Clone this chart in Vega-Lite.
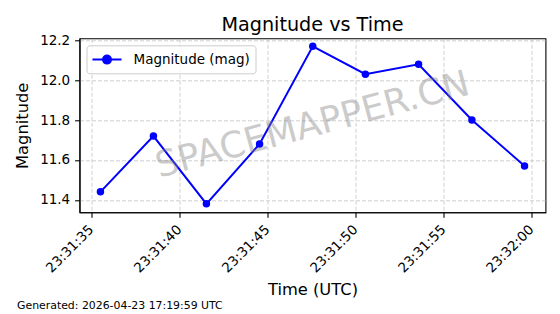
{
  "$schema": "https://vega.github.io/schema/vega-lite/v6.json",
  "autosize": "none",
  "width": 466,
  "height": 174,
  "padding": {"left": 79.5, "top": 38.3, "right": 14.5, "bottom": 101.7},
  "background": "white",
  "title": {
    "text": "Magnitude vs Time",
    "font": "DejaVu Sans",
    "fontSize": 19.2,
    "fontWeight": "normal",
    "color": "black",
    "anchor": "middle",
    "offset": -2
  },
  "config": {
    "view": {"stroke": "black", "strokeWidth": 1.1},
    "axis": {
      "domainColor": "black",
      "domainWidth": 1.1,
      "tickColor": "black",
      "tickWidth": 1.1,
      "tickSize": 4.9,
      "labelPadding": 4.9,
      "labelFont": "DejaVu Sans",
      "labelFontSize": 13.5,
      "labelColor": "black",
      "titleFont": "DejaVu Sans",
      "titleFontSize": 16.3,
      "titleFontWeight": "normal",
      "titleColor": "black",
      "grid": true,
      "gridColor": "#b0b0b0",
      "gridOpacity": 0.6,
      "gridDash": [4, 2],
      "gridWidth": 1
    }
  },
  "datasets": {
    "obs": [
      {"time": "2026-04-23T23:31:35.530Z", "mag": 11.44},
      {"time": "2026-04-23T23:31:38.540Z", "mag": 11.72},
      {"time": "2026-04-23T23:31:41.550Z", "mag": 11.38},
      {"time": "2026-04-23T23:31:44.570Z", "mag": 11.68},
      {"time": "2026-04-23T23:31:47.590Z", "mag": 12.17},
      {"time": "2026-04-23T23:31:50.580Z", "mag": 12.03},
      {"time": "2026-04-23T23:31:53.600Z", "mag": 12.08},
      {"time": "2026-04-23T23:31:56.630Z", "mag": 11.80},
      {"time": "2026-04-23T23:31:59.620Z", "mag": 11.57}
    ],
    "watermark": [{"label": "SPACEMAPPER.CN"}],
    "footer": [{"label": "Generated: 2026-04-23 17:19:59 UTC"}]
  },
  "layer": [
    {
      "data": {"name": "obs"},
      "mark": {"type": "line", "strokeWidth": 2},
      "encoding": {
        "x": {
          "field": "time",
          "type": "temporal",
          "title": "Time (UTC)",
          "scale": {
            "type": "utc",
            "domain": [
              {"year": 2026, "month": 4, "date": 23, "hours": 23, "minutes": 31, "seconds": 34, "milliseconds": 340, "utc": true},
              {"year": 2026, "month": 4, "date": 23, "hours": 23, "minutes": 32, "seconds": 0, "milliseconds": 810, "utc": true}
            ]
          },
          "axis": {
            "values": [
              {"year": 2026, "month": 4, "date": 23, "hours": 23, "minutes": 31, "seconds": 35, "utc": true},
              {"year": 2026, "month": 4, "date": 23, "hours": 23, "minutes": 31, "seconds": 40, "utc": true},
              {"year": 2026, "month": 4, "date": 23, "hours": 23, "minutes": 31, "seconds": 45, "utc": true},
              {"year": 2026, "month": 4, "date": 23, "hours": 23, "minutes": 31, "seconds": 50, "utc": true},
              {"year": 2026, "month": 4, "date": 23, "hours": 23, "minutes": 31, "seconds": 55, "utc": true},
              {"year": 2026, "month": 4, "date": 23, "hours": 23, "minutes": 32, "seconds": 0, "utc": true}
            ],
            "labelExpr": "utcFormat(datum.value, '%H:%M:%S')",
            "labelAngle": -45,
            "labelAlign": "right",
            "labelBaseline": "middle",
            "labelPadding": 10,
            "labelDx": -5,
            "titlePadding": 7
          }
        },
        "y": {
          "field": "mag",
          "type": "quantitative",
          "title": "Magnitude",
          "scale": {"domain": [11.3375, 12.21], "zero": false, "nice": false},
          "axis": {"values": [11.4, 11.6, 11.8, 12.0, 12.2], "format": ".1f", "titlePadding": 9}
        },
        "color": {
          "datum": "Magnitude (mag)",
          "type": "nominal",
          "scale": {"range": ["#0000ff"]},
          "legend": {
            "title": null,
            "orient": "top-left",
            "offset": 7,
            "padding": 5.3,
            "cornerRadius": 3,
            "strokeColor": "#cccccc",
            "fillColor": "rgba(255,255,255,0.8)",
            "symbolType": "M-1.04,0H2.59M1.275,0A0.5,0.5,0,1,1,0.275,0A0.5,0.5,0,1,1,1.275,0Z",
            "symbolSize": 256,
            "symbolStrokeWidth": 2,
            "symbolFillColor": "#0000ff",
            "symbolStrokeColor": "#0000ff",
            "labelFont": "DejaVu Sans",
            "labelFontSize": 13.5,
            "labelColor": "black",
            "labelOffset": 23.7,
            "labelLimit": 300,
            "encode": {
              "symbols": {"update": {"fill": {"value": "#0000ff"}, "stroke": {"value": "#0000ff"}, "strokeWidth": {"value": 2}, "opacity": {"value": 1}}}
            }
          }
        }
      }
    },
    {
      "data": {"name": "obs"},
      "mark": {"type": "point", "filled": true, "size": 56, "opacity": 1},
      "encoding": {
        "x": {"field": "time", "type": "temporal"},
        "y": {"field": "mag", "type": "quantitative"},
        "color": {"datum": "Magnitude (mag)", "type": "nominal"}
      }
    },
    {
      "data": {"name": "watermark"},
      "mark": {
        "type": "text",
        "x": {"expr": "width/2"},
        "y": {"expr": "height/2"},
        "align": "center",
        "baseline": "middle",
        "angle": -15,
        "font": "DejaVu Sans",
        "fontSize": 36,
        "fill": "#808080",
        "opacity": 0.4
      },
      "encoding": {"text": {"field": "label"}}
    },
    {
      "data": {"name": "footer"},
      "mark": {
        "type": "text",
        "x": {"expr": "-62.5"},
        "y": {"expr": "height + 96.5"},
        "align": "left",
        "baseline": "alphabetic",
        "font": "DejaVu Sans",
        "fontSize": 10.9,
        "fill": "black"
      },
      "encoding": {"text": {"field": "label"}}
    }
  ]
}
